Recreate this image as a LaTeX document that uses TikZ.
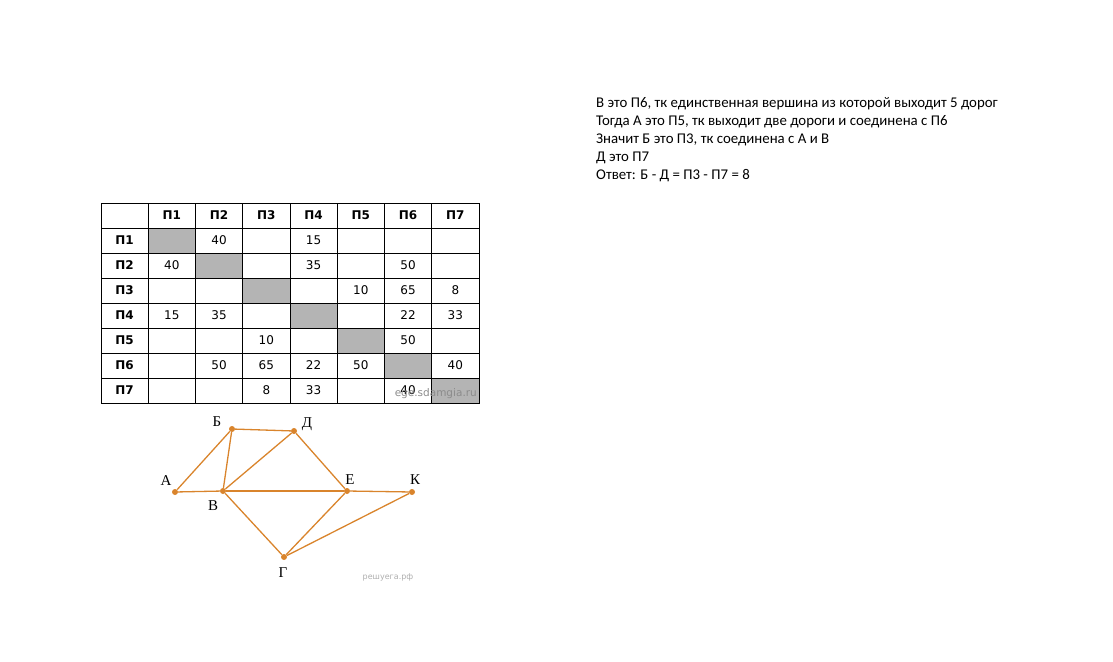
\documentclass[tikz,border=0pt]{standalone}
\usepackage{fontspec}
\setmainfont{Carlito}
\newfontfamily\tblfont{DejaVu Sans}
\newfontfamily\grfont{Liberation Serif}
\usetikzlibrary{positioning}
\definecolor{Rust}{HTML}{D9842C}
\definecolor{CellGray}{HTML}{B4B4B4}
\definecolor{MarkGray}{HTML}{8C8C8C}

\begin{document}
\begin{tikzpicture}[x=1pt,y=-1pt,
    cell/.style={draw=black,line width=0.8pt,minimum width=47.25pt,minimum height=25pt,
      inner sep=0pt},
    val/.style={inner sep=0pt,font=\tblfont\fontsize{12}{12}\selectfont},
    hdr/.style={inner sep=0pt,font=\tblfont\bfseries\fontsize{12}{12}\selectfont},
    vtx/.style={circle,fill=Rust,inner sep=0pt,minimum size=6pt},
    edg/.style={draw=Rust,line width=1.3pt},
    lbl/.style={font=\grfont\fontsize{15}{15}\selectfont,inner sep=0pt}]
  \useasboundingbox (0,0) rectangle (1113,661);

  % reasoning text
  \node[anchor=north west,align=left,inner sep=0pt,
    font=\fontsize{14.85}{18}\selectfont] (note) at (596,97.5)
    {В это П6, тк единственная вершина из которой выходит 5 дорог\\
     Тогда А это П5, тк выходит две дороги и соединена с П6\\
     Значит Б это П3, тк соединена с А и В\\
     Д это П7\\
     Ответ: Б - Д = П3 - П7 = 8};

  % distance table
  \foreach \k in {1,...,7}
    \fill[CellGray] ({101+47.25*\k},{203+25*\k}) rectangle +(47.25,25);
  \foreach \r in {0,...,7}
    \foreach \c in {0,...,7}
      \node[cell] (c-\r-\c) at ({101+47.25*(\c+0.5)},{203+25*(\r+0.5)}) {};
  \foreach \k in {1,...,7} {
    \node[hdr] (h-top-\k) at (c-0-\k) {П\k};
    \node[hdr] (h-left-\k) at (c-\k-0) {П\k};
  }
  \foreach \r/\c/\v in {1/2/40,1/4/15,2/1/40,2/4/35,2/6/50,3/5/10,3/6/65,3/7/8,
      4/1/15,4/2/35,4/6/22,4/7/33,5/3/10,5/6/50,6/2/50,6/3/65,6/4/22,6/5/50,6/7/40,
      7/3/8,7/4/33,7/6/40}
    \node[val] (t-\r-\c) at (c-\r-\c) {\v};
  \node[text=MarkGray,font=\tblfont\fontsize{10.5}{10.5}\selectfont,anchor=south east,
    inner sep=0pt] (ege) at (477,399) {ege.sdamgia.ru};

  % road graph
  \node[vtx] (vA) at (175,492) {};
  \node[vtx] (vB) at (232,429) {};
  \node[vtx] (vD) at (294,431) {};
  \node[vtx] (vV) at (223,491) {};
  \node[vtx] (vE) at (347,491) {};
  \node[vtx] (vK) at (412,492) {};
  \node[vtx] (vG) at (284,557) {};
  \draw[edg] (vA) -- (vB);
  \draw[edg] (vA) -- (vV);
  \draw[edg] (vB) -- (vV);
  \draw[edg] (vB) -- (vD);
  \draw[edg] (vV) -- (vD);
  \draw[edg] (vV) -- (vE);
  \draw[edg] (vD) -- (vE);
  \draw[edg] (vE) -- (vK);
  \draw[edg] (vV) -- (vG);
  \draw[edg] (vG) -- (vE);
  \draw[edg] (vG) -- (vK);
  \node[lbl] (lA) at (166,481) {А};
  \node[lbl] (lB) at (217,422) {Б};
  \node[lbl] (lD) at (307,424) {Д};
  \node[lbl] (lV) at (213,506) {В};
  \node[lbl] (lE) at (350,480) {Е};
  \node[lbl] (lK) at (415,480) {К};
  \node[lbl] (lG) at (283,573) {Г};
  \node[text=MarkGray!70,font=\tblfont\fontsize{8}{8}\selectfont,inner sep=0pt]
    (reshu) at (388,577) {решуега.рф};
\end{tikzpicture}
\end{document}
